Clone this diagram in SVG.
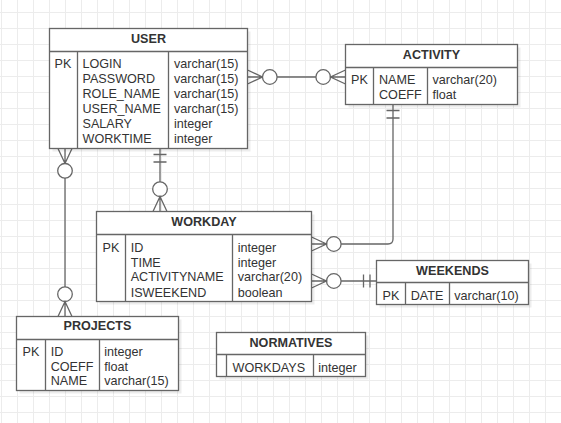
<svg xmlns="http://www.w3.org/2000/svg" width="561" height="423" viewBox="0 0 561 423">
<defs>
<pattern id="grid" patternUnits="userSpaceOnUse" x="1" y="12" width="16" height="16">
<path d="M0.5 0V16M0 0.5H16" fill="none" stroke="#ececec" stroke-width="1"/>
</pattern>
</defs>
<style>
.box{fill:#fff;stroke:#666;stroke-width:1.3}
.sh{fill:#000;opacity:0.07}
.ln{fill:none;stroke:#666;stroke-width:1.3}
.ci{fill:#fff;stroke:#666;stroke-width:1.3}
text{font-family:"Liberation Sans",Arial,sans-serif;font-size:12.6px;fill:#333}
.t{font-weight:bold;text-anchor:middle}
</style>
<rect width="561" height="423" fill="#fff"/>
<rect width="561" height="423" fill="url(#grid)"/>

<g id="connectors">
<!-- USER - ACTIVITY -->
<path class="ln" d="M247.5 70L262.5 77L247.5 84M247.5 77H262.5"/>
<line class="ln" x1="277.1" y1="77" x2="315.9" y2="77"/>
<circle class="ci" cx="269.8" cy="77" r="7.3"/>
<circle class="ci" cx="323.2" cy="77" r="7.3"/>
<path class="ln" d="M345.5 70L330.5 77L345.5 84M345.5 77H330.5"/>
<!-- USER - WORKDAY -->
<line class="ln" x1="160" y1="148.5" x2="160" y2="181.9"/>
<path class="ln" d="M153.5 154.5H166.5M153.5 162H166.5"/>
<circle class="ci" cx="160" cy="189.2" r="7.3"/>
<path class="ln" d="M153 211.5L160 196.5L167 211.5M160 211.5V196.5"/>
<!-- USER - PROJECTS -->
<path class="ln" d="M58 148.5L65 163.5L72 148.5M65 148.5V163.5"/>
<circle class="ci" cx="65" cy="170.8" r="7.3"/>
<line class="ln" x1="65" y1="178.1" x2="65" y2="286.9"/>
<circle class="ci" cx="65" cy="294.2" r="7.3"/>
<path class="ln" d="M58 316.5L65 301.5L72 316.5M65 316.5V301.5"/>
<!-- ACTIVITY - WORKDAY -->
<path class="ln" d="M393 104.5V239Q393 244 388 244H341.1"/>
<path class="ln" d="M386.5 110.5H399.5M386.5 118H399.5"/>
<circle class="ci" cx="333.8" cy="244" r="7.3"/>
<path class="ln" d="M311.5 237L326.5 244L311.5 251M311.5 244H326.5"/>
<!-- WORKDAY - WEEKENDS -->
<line class="ln" x1="341.1" y1="281" x2="376.5" y2="281"/>
<circle class="ci" cx="333.8" cy="281" r="7.3"/>
<path class="ln" d="M311.5 274L326.5 281L311.5 288M311.5 281H326.5"/>
<path class="ln" d="M363.5 274.5V287.5M370 274.5V287.5"/>
</g>

<g id="USER">
<rect class="sh" x="52.5" y="31.5" width="198" height="120"/>
<rect class="box" x="49.5" y="28.5" width="198" height="120"/>
<path class="ln" d="M49.5 51.5H247.5M77.5 51.5V148.5M168.5 51.5V148.5"/>
<text class="t" x="148.5" y="43">USER</text>
<text x="54.5" y="67.7">PK</text>
<text x="82.5" y="67.7">LOGIN</text>
<text x="82.5" y="82.7">PASSWORD</text>
<text x="82.5" y="97.7">ROLE_NAME</text>
<text x="82.5" y="112.7">USER_NAME</text>
<text x="82.5" y="127.7">SALARY</text>
<text x="82.5" y="142.5">WORKTIME</text>
<text x="174" y="67.7">varchar(15)</text>
<text x="174" y="82.7">varchar(15)</text>
<text x="174" y="97.7">varchar(15)</text>
<text x="174" y="112.7">varchar(15)</text>
<text x="174" y="127.7">integer</text>
<text x="174" y="142.5">integer</text>
</g>

<g id="ACTIVITY">
<rect class="sh" x="348.5" y="47.5" width="172" height="60"/>
<rect class="box" x="345.5" y="44.5" width="172" height="60"/>
<path class="ln" d="M345.5 67.5H517.5M373.5 67.5V104.5M427.5 67.5V104.5"/>
<text class="t" x="431.5" y="58.8">ACTIVITY</text>
<text x="351" y="83.8">PK</text>
<text x="379" y="83.8">NAME</text>
<text x="379" y="98.8">COEFF</text>
<text x="432.5" y="83.8">varchar(20)</text>
<text x="432.5" y="98.8">float</text>
</g>

<g id="WORKDAY">
<rect class="sh" x="99.5" y="214.5" width="215" height="90"/>
<rect class="box" x="96.5" y="211.5" width="215" height="90"/>
<path class="ln" d="M96.5 234.5H311.5M125.5 234.5V301.5M232.5 234.5V301.5"/>
<text class="t" x="204" y="226.2">WORKDAY</text>
<text x="102.5" y="251.8">PK</text>
<text x="130.7" y="251.8">ID</text>
<text x="130.7" y="266.6">TIME</text>
<text x="130.7" y="281.4">ACTIVITYNAME</text>
<text x="130.7" y="296.6">ISWEEKEND</text>
<text x="237.7" y="251.8">integer</text>
<text x="237.7" y="266.6">integer</text>
<text x="237.7" y="281.4">varchar(20)</text>
<text x="237.7" y="296.6">boolean</text>
</g>

<g id="WEEKENDS">
<rect class="sh" x="379.5" y="263.5" width="152" height="44"/>
<rect class="box" x="376.5" y="260.5" width="152" height="44"/>
<path class="ln" d="M376.5 282.5H528.5M405.5 282.5V304.5M449.5 282.5V304.5"/>
<text class="t" x="452.5" y="274.5">WEEKENDS</text>
<text x="382.5" y="300.2">PK</text>
<text x="410.7" y="300.2">DATE</text>
<text x="454.3" y="300.2">varchar(10)</text>
</g>

<g id="PROJECTS">
<rect class="sh" x="19.5" y="319.5" width="162" height="74"/>
<rect class="box" x="16.5" y="316.5" width="162" height="74"/>
<path class="ln" d="M16.5 339.5H178.5M45.5 339.5V390.5M99.5 339.5V390.5"/>
<text class="t" x="97.5" y="330.2">PROJECTS</text>
<text x="22.5" y="355.5">PK</text>
<text x="50.7" y="355.5">ID</text>
<text x="50.7" y="370.5">COEFF</text>
<text x="50.7" y="385.3">NAME</text>
<text x="104.3" y="355.5">integer</text>
<text x="104.3" y="370.5">float</text>
<text x="104.3" y="385.3">varchar(15)</text>
</g>

<g id="NORMATIVES">
<rect class="sh" x="219.5" y="335.5" width="149" height="44"/>
<rect class="box" x="216.5" y="332.5" width="149" height="44"/>
<path class="ln" d="M216.5 354.5H365.5M226.5 354.5V376.5M313.5 354.5V376.5"/>
<text class="t" x="291" y="346.8">NORMATIVES</text>
<text x="232.5" y="372.2">WORKDAYS</text>
<text x="318.3" y="372.2">integer</text>
</g>
</svg>
